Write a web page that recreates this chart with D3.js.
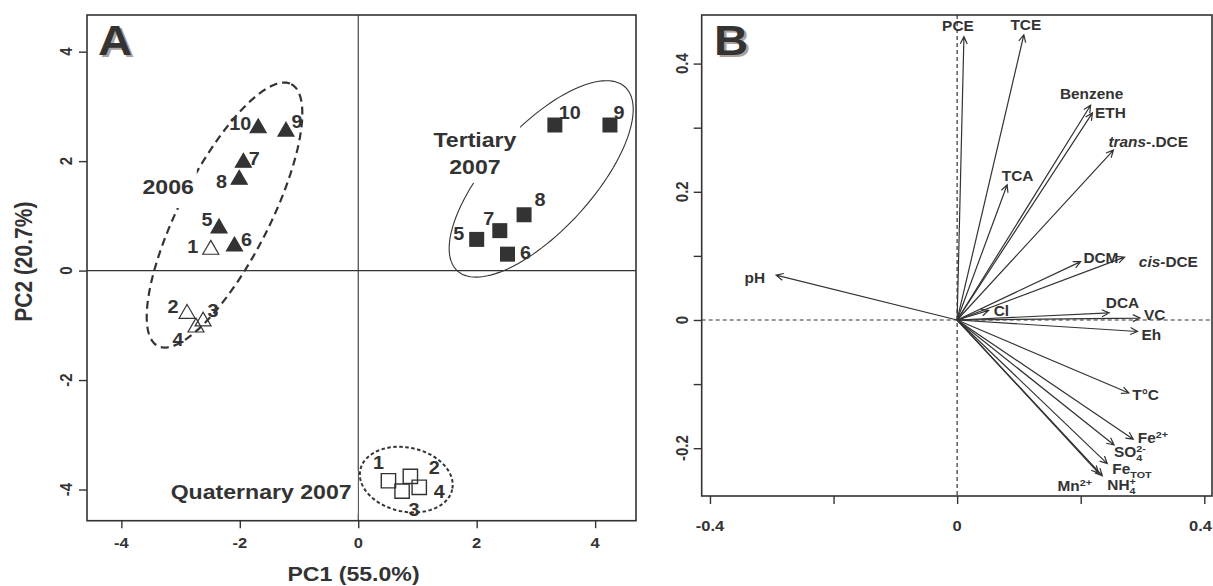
<!DOCTYPE html>
<html>
<head>
<meta charset="utf-8">
<script src="https://cdn.jsdelivr.net/npm/d3@7"></script>
<style>
  body { margin: 0; background: #fff; }
  svg { display: block; }
  text { font-family: "Liberation Sans", Arial, Helvetica, sans-serif; font-weight: bold; }
</style>
</head>
<body>
<svg id="chart" width="1213" height="586"></svg>
<script>
// ---------- Panel A: sample scores on PC1 / PC2 ----------
const group2006Ids    = [1, 2, 3, 4, 5, 6, 7, 8, 9, 10];
const group2006PC1    = [-2.49, -2.89, -2.62, -2.74, -2.35, -2.09, -1.94, -2.01, -1.22, -1.69];
const group2006PC2    = [0.41, -0.76, -0.90, -1.01, 0.80, 0.47, 2.00, 1.69, 2.57, 2.63];
const group2006Filled = [false, false, false, false, true, true, true, true, true, true];

const tertiaryIds = [5, 6, 7, 8, 9, 10];
const tertiaryPC1 = [2.00, 2.52, 2.39, 2.80, 4.25, 3.32];
const tertiaryPC2 = [0.57, 0.30, 0.73, 1.02, 2.66, 2.66];

const quaternaryIds = [1, 2, 3, 4];
const quaternaryPC1 = [0.51, 0.88, 0.74, 1.03];
const quaternaryPC2 = [-3.84, -3.76, -4.03, -3.96];

// group envelopes: centre and two conjugate radii, in PC units
const envelopeNames = ["2006", "Tertiary 2007", "Quaternary 2007"];
const envelopeCenterPC1 = [-2.258, 3.089, 0.811];
const envelopeCenterPC2 = [1.015, 1.675, -3.819];
const envelopeRadiusU = [[1.126, 2.393], [1.416, 1.680], [0.776, -0.179]];
const envelopeRadiusV = [[0.677, -0.373], [0.640, -0.632], [-0.112, -0.572]];

const axisTicksA = [-4, -2, 0, 2, 4];
const axisTickLabelsA = ["-4", "-2", "0", "2", "4"];

// ---------- Panel B: variable loadings ----------
const loadingVars = ["pH", "PCE", "TCE", "Benzene", "ETH", "trans-.DCE", "TCA", "DCM", "cis-DCE",
                     "Cl", "DCA", "VC", "Eh", "T°C", "Fe2+", "SO42-", "FeTOT", "NH4+", "Mn2+"];
const loadingPC1 = [-0.293, 0.011, 0.108, 0.216, 0.219, 0.253, 0.081, 0.200, 0.271,
                    0.051, 0.246, 0.296, 0.292, 0.278, 0.285, 0.254, 0.243, 0.235, 0.229];
const loadingPC2 = [0.070, 0.442, 0.445, 0.335, 0.323, 0.265, 0.211, 0.091, 0.098,
                    0.015, 0.011, 0.003, -0.018, -0.114, -0.186, -0.195, -0.224, -0.243, -0.239];

const xTicksB = [-0.4, -0.2, 0, 0.2, 0.4];
const xTickLabelsB = ["-0.4", "", "0", "", "0.4"];
const yTicksB = [-0.2, -0.1, 0, 0.1, 0.2, 0.3, 0.4];
const yTickLabelsB = ["-0.2", "", "0", "", "0.2", "", "0.4"];

// ---------- drawing ----------
const ink = "#333";
const SX = 1.1;               // horizontal stretch of the lettering
const svg = d3.select("#chart");
const W = +svg.attr("width");

function label(parent, x, y, parts, o = {}) {
  const g = parent.append("g")
    .attr("transform", `translate(${x},${y}) scale(${SX},1)` + (o.rotate ? ` rotate(${o.rotate})` : ""));
  const t = g.append("text")
    .attr("text-anchor", o.anchor || "middle")
    .attr("font-size", o.size || 14)
    .attr("fill", o.fill || ink);
  const list = typeof parts === "string" ? [{ t: parts }] : parts;
  const small = (o.size || 14) * 0.7;
  list.forEach(p => {
    const s = t.append("tspan").text(p.t);
    if (p.italic) s.style("font-style", "italic");
    if (p.sub) s.attr("font-size", small).attr("dy", 4);
    if (p.sup) s.attr("font-size", small).attr("dy", -5);
    if (p.stack) s.attr("font-size", small).attr("dx", -small * 0.56).attr("dy", -9);
  });
  if (o.pad) {
    const b = t.node().getBBox();
    g.insert("rect", "text")
      .attr("x", b.x - o.pad[0] / SX).attr("y", b.y - o.pad[1])
      .attr("width", b.width + 2 * o.pad[0] / SX).attr("height", b.height + 2 * o.pad[1])
      .attr("fill", "#fff");
  }
  return g;
}

function panelLetter(x, y, letter) {
  label(svg, x + 2.5, y + 2, letter, { size: 43, anchor: "start", fill: "#aaa29b" });
  label(svg, x, y, letter, { size: 43, anchor: "start", fill: ink });
}

// ===== Panel A =====
const xA = d3.scaleLinear().domain([-4.58, 4.69]).range([87, 636]);
const yA = d3.scaleLinear().domain([-4.57, 4.67]).range([520.7, 15]);
const gA = svg.append("g");

// zero reference lines
gA.append("line").attr("x1", xA(0)).attr("x2", xA(0)).attr("y1", yA.range()[1]).attr("y2", yA.range()[0])
  .attr("stroke", ink).attr("stroke-width", 1.1);
gA.append("line").attr("y1", yA(0)).attr("y2", yA(0)).attr("x1", xA.range()[0]).attr("x2", xA.range()[1])
  .attr("stroke", ink).attr("stroke-width", 1.1);

// axes ticks
gA.append("g").attr("transform", `translate(0,${yA.range()[0]})`)
  .call(d3.axisBottom(xA).tickValues(axisTicksA).tickSize(7.5).tickFormat(""))
  .call(g => g.select(".domain").remove())
  .call(g => g.selectAll("line").attr("stroke", ink).attr("stroke-width", 1.4));
gA.append("g").attr("transform", `translate(${xA.range()[0]},0)`)
  .call(d3.axisLeft(yA).tickValues(axisTicksA).tickSize(8).tickFormat(""))
  .call(g => g.select(".domain").remove())
  .call(g => g.selectAll("line").attr("stroke", ink).attr("stroke-width", 1.4));

axisTicksA.forEach((v, i) => {
  label(gA, xA(v), 548.3, axisTickLabelsA[i], { size: 15 });
  label(gA, 71.7, yA(v), axisTickLabelsA[i], { size: 15, rotate: -90 });
});

// envelopes
const envelopeStyles = [
  { dash: "8,5", width: 2.2 },
  { dash: null, width: 1.1 },
  { dash: "3.5,2.5", width: 2 }
];
envelopeNames.forEach((name, i) => {
  const pts = d3.range(0, 360, 3).map(a => {
    const t = a * Math.PI / 180;
    return [
      xA(envelopeCenterPC1[i] + envelopeRadiusU[i][0] * Math.cos(t) + envelopeRadiusV[i][0] * Math.sin(t)),
      yA(envelopeCenterPC2[i] + envelopeRadiusU[i][1] * Math.cos(t) + envelopeRadiusV[i][1] * Math.sin(t))
    ];
  });
  gA.append("path").attr("d", d3.line().curve(d3.curveLinearClosed)(pts))
    .attr("fill", "none").attr("stroke", ink)
    .attr("stroke-width", envelopeStyles[i].width)
    .attr("stroke-dasharray", envelopeStyles[i].dash);
});

// group names (PC coordinates) with a white backing
const groupNameSpots = [
  { text: "2006", pc1: -3.21, pc2: 1.53, pad: [3, 9] },
  { text: "Tertiary", pc1: 1.97, pc2: 2.39, pad: [3, 4] },
  { text: "2007", pc1: 1.97, pc2: 1.90, pad: [3, 4] },
  { text: "Quaternary 2007", pc1: -1.64, pc2: -4.04, pad: [6, 10] }
];
groupNameSpots.forEach(s => {
  label(gA, xA(s.pc1), yA(s.pc2) + 7.5, s.text, { size: 21, pad: s.pad });
});

// markers
const triangle = d3.symbol(d3.symbolTriangle, 111);
const squareFilled = d3.symbol(d3.symbolSquare, 225);
const squareOpen = d3.symbol(d3.symbolSquare, 205);

// label offsets in px from each marker centre
const offsets2006 = [[-18, -2], [-14, -6], [10, -9], [-18, 14], [-12, -7], [12, -5], [11, -3], [-17.6, 3], [11, -8], [-18, -3.4]];
const offsetsTertiary = [[-18, -6], [18, -2], [-11, -12], [16, -15], [9, -13], [15, -13]];
const offsetsQuaternary = [[-10, -18], [24, -9], [12, 18], [20, 4]];

group2006Ids.forEach((id, i) => {
  const cx = xA(group2006PC1[i]), cy = yA(group2006PC2[i]);
  gA.append("path").attr("d", triangle).attr("transform", `translate(${cx},${cy + 1.5})`)
    .attr("fill", group2006Filled[i] ? ink : "none").attr("stroke", ink).attr("stroke-width", 1.2);
  label(gA, cx + offsets2006[i][0], cy + offsets2006[i][1] + 6.5, String(id), { size: 18 });
});
tertiaryIds.forEach((id, i) => {
  const cx = xA(tertiaryPC1[i]), cy = yA(tertiaryPC2[i]);
  gA.append("path").attr("d", squareFilled).attr("transform", `translate(${cx},${cy})`).attr("fill", ink);
  label(gA, cx + offsetsTertiary[i][0], cy + offsetsTertiary[i][1] + 6.5, String(id), { size: 18 });
});
quaternaryIds.forEach((id, i) => {
  const cx = xA(quaternaryPC1[i]), cy = yA(quaternaryPC2[i]);
  gA.append("path").attr("d", squareOpen).attr("transform", `translate(${cx},${cy})`)
    .attr("fill", "none").attr("stroke", ink).attr("stroke-width", 1.4);
  label(gA, cx + offsetsQuaternary[i][0], cy + offsetsQuaternary[i][1] + 6.5, String(id), { size: 18 });
});

// frame and titles
gA.append("rect").attr("x", 87).attr("y", 15).attr("width", 636 - 87).attr("height", 520.7 - 15)
  .attr("fill", "none").attr("stroke", ink).attr("stroke-width", 1.6);
label(svg, 353.5, 581, "PC1 (55.0%)", { size: 21 });
label(svg, 32, 261.7, "PC2 (20.7%)", { size: 21, rotate: -90 });
panelLetter(98, 55, "A");

// ===== Panel B =====
const xB = d3.scaleLinear().domain([-0.4134, 0.4125]).range([701.7, 1212]);
const yB = d3.scaleLinear().domain([-0.2746, 0.4758]).range([496, 15]);
const gB = svg.append("g");

gB.append("line").attr("x1", xB(0)).attr("x2", xB(0)).attr("y1", yB.range()[1]).attr("y2", yB.range()[0])
  .attr("stroke", ink).attr("stroke-width", 1.2).attr("stroke-dasharray", "4,3");
gB.append("line").attr("y1", yB(0)).attr("y2", yB(0)).attr("x1", xB.range()[0]).attr("x2", xB.range()[1])
  .attr("stroke", ink).attr("stroke-width", 1.2).attr("stroke-dasharray", "4,3");

gB.append("g").attr("transform", `translate(0,${yB.range()[0]})`)
  .call(d3.axisBottom(xB).tickValues(xTicksB).tickSize(8).tickFormat(""))
  .call(g => g.select(".domain").remove())
  .call(g => g.selectAll("line").attr("stroke", ink).attr("stroke-width", 1.4));
gB.append("g").attr("transform", `translate(${xB.range()[0]},0)`)
  .call(d3.axisLeft(yB).tickValues(yTicksB).tickSize(8).tickFormat(""))
  .call(g => g.select(".domain").remove())
  .call(g => g.selectAll("line").attr("stroke", ink).attr("stroke-width", 1.4));
xTicksB.forEach((v, i) => {
  if (!xTickLabelsB[i]) return;
  // keep the last label inside the canvas
  const cx = Math.min(xB(v), W - 12.5);
  label(gB, cx, 530.7, xTickLabelsB[i], { size: 15 });
});
yTicksB.forEach((v, i) => { if (yTickLabelsB[i]) label(gB, 688.3, yB(v), yTickLabelsB[i], { size: 15, rotate: -90 }); });

// how each variable name is typeset
const loadingText = {
  "trans-.DCE": [{ t: "trans", italic: true }, { t: "-.DCE" }],
  "cis-DCE": [{ t: "cis-", italic: true }, { t: "DCE" }],
  "Fe2+": [{ t: "Fe" }, { t: "2+", sup: true }],
  "SO42-": [{ t: "SO" }, { t: "4", sub: true }, { t: "2-", stack: true }],
  "FeTOT": [{ t: "Fe" }, { t: "TOT", sub: true }],
  "NH4+": [{ t: "NH" }, { t: "4", sub: true }, { t: "+", stack: true }],
  "Mn2+": [{ t: "Mn" }, { t: "2+", sup: true }]
};
// name placement relative to each arrow tip: [dx, dy (baseline), anchor]
const loadingLabelOffsets = [
  [-11, 8, "end"], [-6, -6, "middle"], [2, -5, "middle"], [1, -6.7, "middle"], [2.6, 5, "start"],
  [-5, -3.3, "start"], [10.5, -3.3, "middle"], [2.7, 1.6, "start"], [14.3, 9.4, "start"],
  [5, 6, "start"], [-3.3, -5, "start"], [4, 1.7, "start"], [4, 8.3, "start"], [3.4, 7.4, "start"],
  [4.6, 3.4, "start"], [0, 11.7, "start"], [5, 10, "start"], [5, 14.7, "start"], [-6.6, 17.4, "end"]
];

const x0 = xB(0), y0 = yB(0);
loadingVars.forEach((name, i) => {
  const x1 = xB(loadingPC1[i]), y1 = yB(loadingPC2[i]);
  const ang = Math.atan2(y1 - y0, x1 - x0), hl = 8, ha = 0.45;
  const p = d3.path();
  p.moveTo(x0, y0); p.lineTo(x1, y1);
  p.moveTo(x1 - hl * Math.cos(ang - ha), y1 - hl * Math.sin(ang - ha));
  p.lineTo(x1, y1);
  p.lineTo(x1 - hl * Math.cos(ang + ha), y1 - hl * Math.sin(ang + ha));
  gB.append("path").attr("d", p.toString()).attr("fill", "none").attr("stroke", ink).attr("stroke-width", 1.2);
  const off = loadingLabelOffsets[i];
  label(gB, x1 + off[0], y1 + off[1], loadingText[name] || name, { size: 14, anchor: off[2] });
});

gB.append("rect").attr("x", 701.7).attr("y", 15).attr("width", 1212 - 701.7).attr("height", 496 - 15)
  .attr("fill", "none").attr("stroke", ink).attr("stroke-width", 1.6);
panelLetter(714, 55, "B");
</script>
</body>
</html>
